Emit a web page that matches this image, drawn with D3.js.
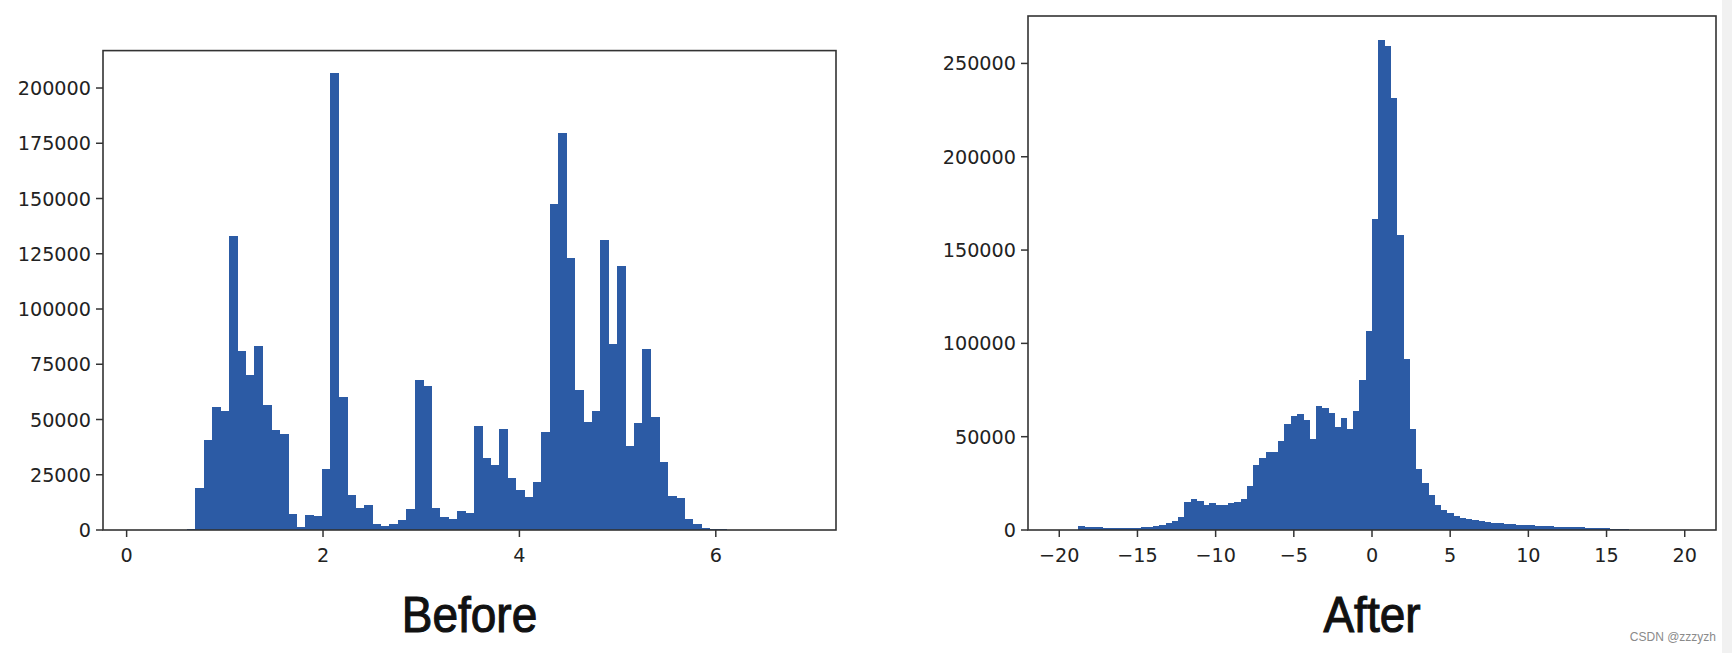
<!DOCTYPE html>
<html>
<head>
<meta charset="utf-8">
<script src="https://cdn.jsdelivr.net/npm/d3@7"></script>
<style>
  html, body { margin: 0; padding: 0; background: #ffffff; }
  svg { display: block; }
</style>
</head>
<body>
<svg id="chart" width="1732" height="653"></svg>
<script>
// ---------------- DATA ----------------
const beforeBinStart = 0.0987;
const beforeBinWidth = 0.0859;
const beforeCounts = [
  0, 0, 0, 0, 0, 0, 600,
  19150, 40700, 55800, 54000, 133000, 81000, 70000, 83200, 56400, 45200,
  43400, 7200, 1500, 6800, 6500, 27400, 206600, 60300, 15800, 9800,
  11300, 2700, 1800, 2600, 4500, 9500, 67900, 65100, 10100, 6000,
  4800, 8700, 7800, 47200, 32400, 29400, 45500, 23700, 18100, 15100,
  21900, 44500, 147500, 179700, 123200, 63300, 48700, 53800, 131200, 84000,
  119600, 38000, 48300, 81900, 51000, 30900, 15500, 14300, 5000, 2700,
  1000, 600, 300, 100,
  50, 0, 0, 0, 0, 0, 0, 0
];
const beforeXTicks = [0, 2, 4, 6];
const beforeYTicks = [0, 25000, 50000, 75000, 100000, 125000, 150000, 175000, 200000];

const afterBinStart = -20;
const afterBinWidth = 0.4;
const afterCounts = [
  0, 0, 0, 2300, 1800, 1600, 1400, 1250, 1100, 1100,
  1100, 1250, 1250, 1600, 1800, 2100, 2500, 3600, 4800, 7200,
  14800, 16600, 15500, 13400, 14300, 13600, 13600, 14300, 14800, 16600,
  23800, 34900, 38400, 41800, 41800, 47700, 56900, 61300, 62000, 59000,
  48800, 66200, 65300, 62600, 55400, 59900, 54200, 63500, 80500, 106400,
  166800, 262300, 259300, 231500, 157900, 91700, 54200, 32600, 25000, 19000,
  13400, 10700, 8900, 7700, 6600, 5900, 5400, 4800, 4300, 3900,
  3600, 3200, 3000, 2900, 2700, 2500, 2300, 2100, 2000, 1800,
  1600, 1600, 1400, 1400, 1250, 1250, 1100, 1000, 800, 500,
  300, 150, 100, 0, 0, 0, 0, 0, 0, 0
];
const afterXTicks = [-20, -15, -10, -5, 0, 5, 10, 15, 20];
const afterYTicks = [0, 50000, 100000, 150000, 200000, 250000];

const titles = ["Before", "After"];
const watermark = "CSDN @zzzyzh";

// ---------------- DRAWING ----------------
const svg = d3.select("#chart");
const BAR = "#2c5ba5";
const INK = "#222";
const SX = 0.96;

function fmtTick(v) {
  return v < 0 ? "\u2212" + Math.abs(v) : String(v);
}

function panel(opts) {
  const { counts, binStart, binWidth, xTicks, yTicks, left, right, top, bottom, title } = opts;
  const n = counts.length;
  const x0 = binStart, x1 = binStart + n * binWidth;
  const xm = (x1 - x0) * 0.05;
  const x = d3.scaleLinear().domain([x0 - xm, x1 + xm]).range([left, right]);
  const y = d3.scaleLinear().domain([0, d3.max(counts) * 1.05]).range([bottom, top]);

  const g = svg.append("g");
  const bins = counts.map((c, i) => ({ a: binStart + i * binWidth, b: binStart + (i + 1) * binWidth, c }));

  g.append("g").selectAll("rect").data(bins.filter(d => d.c > 0)).join("rect")
    .attr("x", d => x(d.a))
    .attr("width", d => x(d.b) - x(d.a) + 0.4)
    .attr("y", d => y(d.c))
    .attr("height", d => y(0) - y(d.c))
    .attr("fill", BAR)
    .attr("shape-rendering", "crispEdges");

  // frame
  g.append("rect")
    .attr("x", left).attr("y", top)
    .attr("width", right - left).attr("height", bottom - top)
    .attr("fill", "none").attr("stroke", "#333").attr("stroke-width", 1.6);

  // x axis ticks
  const xa = g.append("g");
  xTicks.forEach(t => {
    xa.append("line")
      .attr("x1", x(t)).attr("x2", x(t))
      .attr("y1", bottom).attr("y2", bottom + 7)
      .attr("stroke", "#333").attr("stroke-width", 1.5);
    xa.append("text")
      .attr("transform", `translate(${x(t)},${bottom + 32}) scale(${SX},1)`)
      .attr("text-anchor", "middle")
      .attr("font-family", "DejaVu Sans")
      .attr("font-size", 20)
      .attr("fill", INK)
      .text(fmtTick(t));
  });
  // y axis ticks
  const ya = g.append("g");
  yTicks.forEach(t => {
    ya.append("line")
      .attr("x1", left - 7).attr("x2", left)
      .attr("y1", y(t)).attr("y2", y(t))
      .attr("stroke", "#333").attr("stroke-width", 1.5);
    ya.append("text")
      .attr("transform", `translate(${left - 12},${y(t) + 7}) scale(${SX},1)`)
      .attr("text-anchor", "end")
      .attr("font-family", "DejaVu Sans")
      .attr("font-size", 20)
      .attr("fill", INK)
      .text(fmtTick(t));
  });

  // title
  g.append("text")
    .attr("transform", `translate(${(left + right) / 2},${bottom + 102}) scale(0.92,1)`)
    .attr("text-anchor", "middle")
    .attr("font-family", "Liberation Sans, Arial, sans-serif")
    .attr("font-size", 50)
    .attr("fill", "#111")
    .attr("stroke", "#111")
    .attr("stroke-width", 1.1)
    .text(title);
}

panel({
  counts: beforeCounts, binStart: beforeBinStart, binWidth: beforeBinWidth,
  xTicks: beforeXTicks, yTicks: beforeYTicks,
  left: 103, right: 836, top: 50.6, bottom: 530, title: titles[0]
});
panel({
  counts: afterCounts, binStart: afterBinStart, binWidth: afterBinWidth,
  xTicks: afterXTicks, yTicks: afterYTicks,
  left: 1028, right: 1716, top: 16, bottom: 530, title: titles[1]
});

// right edge light strip and watermark
svg.append("rect").attr("x", 1722).attr("y", 0).attr("width", 10).attr("height", 653).attr("fill", "#f1f1f1");
svg.append("text")
  .attr("x", 1716).attr("y", 641)
  .attr("text-anchor", "end")
  .attr("font-family", "Liberation Sans, Arial, sans-serif")
  .attr("font-size", 12)
  .attr("fill", "#8a8a8a")
  .text(watermark);
</script>
</body>
</html>
